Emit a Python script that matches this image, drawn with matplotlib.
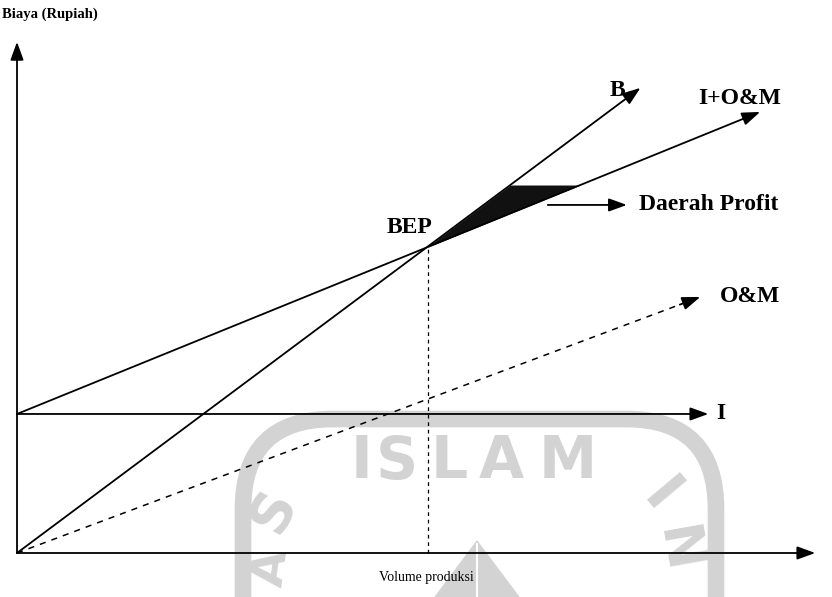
import matplotlib
matplotlib.use("Agg")
import numpy as np
import matplotlib.pyplot as plt
from matplotlib.patches import FancyBboxPatch, Polygon

# ========= data (abstract units, 0..100 on both axes) =========
fixed_cost = 27.2                 # I
bep_x, bep_y = 51.5, 59.9         # break-even point
b_end = (78.1, 91.0)              # revenue line B end
iom_end = (93.1, 86.3)            # I+O&M end
om_end = (85.6, 50.1)             # O&M end
i_end_x = 86.6                    # I line end
profit_cap = 72.0                 # top of shaded profit area
axis_max = 100.0

line_labels = ["B", "I+O&M", "O&M", "I"]

# ========= figure =========
plt.rcParams["font.family"] = ["Liberation Serif", "DejaVu Serif"]
fig = plt.figure(figsize=(8.32, 5.97), dpi=100)

# --- faint scanned watermark (university logo), drawn in pixel space ---
wm_ax = fig.add_axes([0, 0, 1, 1], zorder=0)
wm_ax.set_xlim(0, 832)
wm_ax.set_ylim(597, 0)
wm_ax.axis("off")
wm = "#d3d3d3"
wm_font = dict(fontsize=42, family="DejaVu Sans", fontweight="bold", color=wm,
               ha="center", va="center")
wm_ax.add_patch(FancyBboxPatch((243, 419), 473, 320,
                               boxstyle="round,pad=0,rounding_size=90",
                               fill=False, ec=wm, lw=12))
for ch, px in zip("ISLAM", [361, 397, 449, 501, 568]):
    wm_ax.text(px, 462, ch, **wm_font)
for ch, (px, py, rot, fs) in zip("INSA", [(660, 497, -50, 42), (677, 550, -80, 40),
                                          (273, 510, 62, 40), (272, 568, 82, 34)]):
    wm_ax.text(px, py, ch, rotation=rot, **dict(wm_font, fontsize=fs))
wm_ax.add_patch(Polygon([(477, 540), (432, 600), (522, 600)], closed=True,
                        color=wm, lw=0))
wm_ax.plot([477, 477], [544, 600], color="white", lw=1.5)

# --- main diagram ---
ax = fig.add_axes([0, 0, 1, 1], zorder=1)
ax.patch.set_alpha(0)
ax.set_xlim(-2.13, 102.1)
ax.set_ylim(-8.61, 108.2)
ax.axis("off")

ink = "black"
arrow_kw = dict(arrowstyle="-|>,head_length=1.1,head_width=0.4", color=ink, lw=1.3,
                shrinkA=0, shrinkB=0)

# axes
ax.annotate("", xy=(0, axis_max), xytext=(0, 0), arrowprops=arrow_kw)
ax.annotate("", xy=(axis_max, 0), xytext=(0, 0), arrowprops=arrow_kw)

# I line
ax.annotate("", xy=(i_end_x, fixed_cost), xytext=(0, fixed_cost), arrowprops=arrow_kw)
# I+O&M line
ax.annotate("", xy=iom_end, xytext=(0, fixed_cost), arrowprops=arrow_kw)
# B line
ax.annotate("", xy=b_end, xytext=(0, 0), arrowprops=arrow_kw)
# O&M dashed line
ax.plot([0, om_end[0] * 0.97], [0, om_end[1] * 0.97], color=ink, lw=1.1,
        linestyle=(0, (4, 4)))
ax.annotate("", xy=om_end, xytext=(om_end[0] * 0.97, om_end[1] * 0.97),
            arrowprops=arrow_kw)

# vertical dashed line at BEP
ax.plot([bep_x, bep_x], [0, bep_y], color=ink, lw=0.9, linestyle=(0, (3, 3)))

# profit area between B and I+O&M
b_slope = b_end[1] / b_end[0]
iom_slope = (iom_end[1] - fixed_cost) / iom_end[0]
x_tip = (profit_cap - fixed_cost) / iom_slope
xs = np.linspace(bep_x, x_tip, 100)
upper = np.minimum(b_slope * xs, profit_cap)
lower = fixed_cost + iom_slope * xs
ax.fill_between(xs, lower, upper, color="#111111", lw=0)

# Daerah Profit pointer
ax.annotate("", xy=(76.4, 68.1), xytext=(66.5, 68.1), arrowprops=arrow_kw)

# labels
big = dict(fontsize=17, fontweight="bold", color=ink)
ax.text(bep_x + 0.5, 63.6, "BEP", ha="right", va="center", **big)
ax.text(b_end[0] - 3.8, b_end[1] - 0.5, line_labels[0], ha="left", va="center", **big)
ax.text(iom_end[0] - 7.8, iom_end[1] + 2.6, line_labels[1], ha="left", va="center", **big)
ax.text(om_end[0] + 2.4, om_end[1], line_labels[2], ha="left", va="center", **big)
ax.text(i_end_x + 1.0, fixed_cost, line_labels[3], ha="left", va="center", **big)
ax.text(77.9, 68.1, "Daerah Profit", ha="left", va="center", **big)

ax.text(-1.9, 105.4, "Biaya (Rupiah)", ha="left", va="center",
        fontsize=10.5, fontweight="bold", color=ink)
ax.text(51.3, -4.8, "Volume produksi", ha="center", va="center",
        fontsize=10, color=ink)

fig.savefig("out.png", dpi=100)
plt.close(fig)
